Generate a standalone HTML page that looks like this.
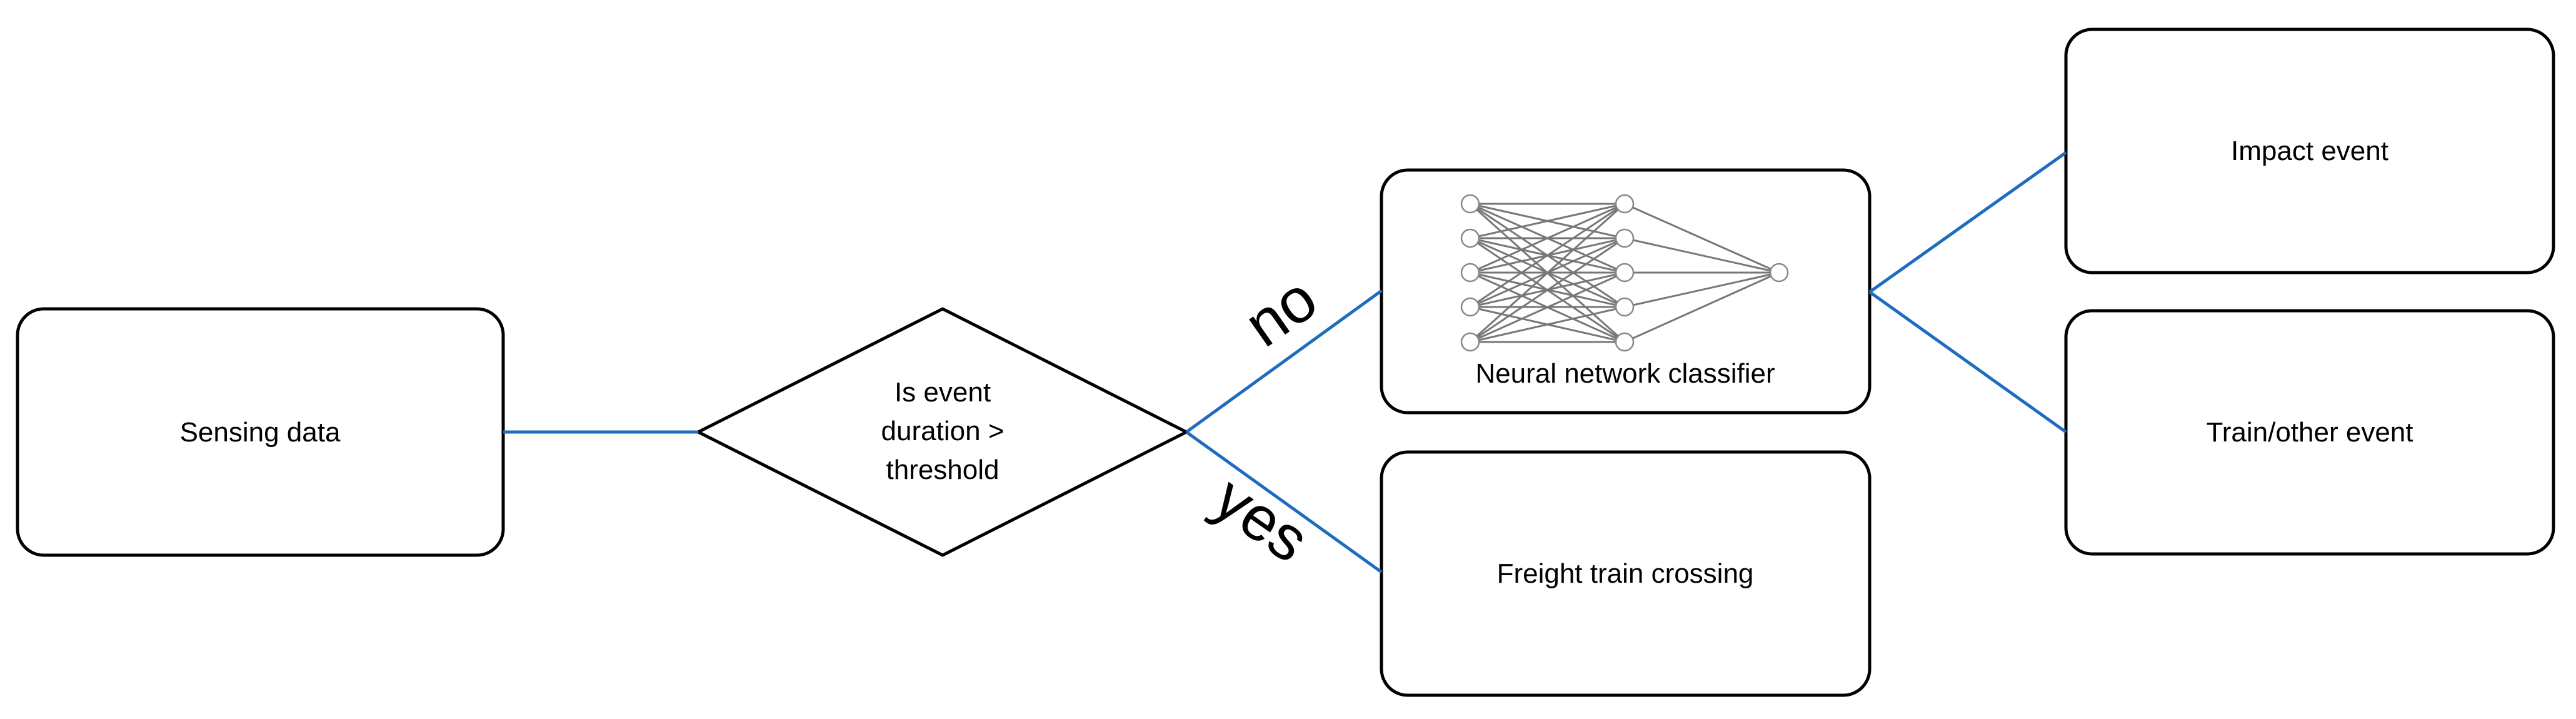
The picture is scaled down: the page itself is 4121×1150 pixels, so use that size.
<!DOCTYPE html>
<html><head><meta charset="utf-8"><style>html,body{margin:0;padding:0;background:#fff}svg{display:block}</style></head>
<body>
<svg width="4121" height="1150" viewBox="0 0 4121 1150" xmlns="http://www.w3.org/2000/svg" font-family="Liberation Sans, sans-serif">
<g fill="#fff" stroke="#000" stroke-width="5">
<rect x="28" y="494" width="777" height="394" rx="42"/>
<polygon points="1117,691 1508,494 1898,691 1508,888"/>
<rect x="2210" y="272" width="781" height="388" rx="42"/>
<rect x="2210" y="723" width="781" height="389" rx="42"/>
<rect x="3305" y="47" width="780" height="389" rx="42"/>
<rect x="3305" y="497" width="780" height="389" rx="42"/>
</g>
<g stroke="#1f6bbf" stroke-width="5" fill="none">
<line x1="805" y1="691" x2="1117" y2="691"/>
<line x1="1898" y1="691" x2="2210" y2="465"/>
<line x1="1898" y1="691" x2="2210" y2="915"/>
<line x1="2991" y1="467" x2="3305" y2="244"/>
<line x1="2991" y1="467" x2="3305" y2="691"/>
</g>
<g stroke="#777" stroke-width="3">
<line x1="2352" y1="326" x2="2599" y2="326"/><line x1="2352" y1="326" x2="2599" y2="381"/><line x1="2352" y1="326" x2="2599" y2="436"/><line x1="2352" y1="326" x2="2599" y2="491"/><line x1="2352" y1="326" x2="2599" y2="547"/>
<line x1="2352" y1="381" x2="2599" y2="326"/><line x1="2352" y1="381" x2="2599" y2="381"/><line x1="2352" y1="381" x2="2599" y2="436"/><line x1="2352" y1="381" x2="2599" y2="491"/><line x1="2352" y1="381" x2="2599" y2="547"/>
<line x1="2352" y1="436" x2="2599" y2="326"/><line x1="2352" y1="436" x2="2599" y2="381"/><line x1="2352" y1="436" x2="2599" y2="436"/><line x1="2352" y1="436" x2="2599" y2="491"/><line x1="2352" y1="436" x2="2599" y2="547"/>
<line x1="2352" y1="491" x2="2599" y2="326"/><line x1="2352" y1="491" x2="2599" y2="381"/><line x1="2352" y1="491" x2="2599" y2="436"/><line x1="2352" y1="491" x2="2599" y2="491"/><line x1="2352" y1="491" x2="2599" y2="547"/>
<line x1="2352" y1="547" x2="2599" y2="326"/><line x1="2352" y1="547" x2="2599" y2="381"/><line x1="2352" y1="547" x2="2599" y2="436"/><line x1="2352" y1="547" x2="2599" y2="491"/><line x1="2352" y1="547" x2="2599" y2="547"/>
<line x1="2599" y1="326" x2="2846" y2="436"/><line x1="2599" y1="381" x2="2846" y2="436"/><line x1="2599" y1="436" x2="2846" y2="436"/><line x1="2599" y1="491" x2="2846" y2="436"/><line x1="2599" y1="547" x2="2846" y2="436"/>
</g>
<g fill="#fff" stroke="#888" stroke-width="2.5">
<circle cx="2352" cy="326" r="14"/><circle cx="2352" cy="381" r="14"/><circle cx="2352" cy="436" r="14"/><circle cx="2352" cy="491" r="14"/><circle cx="2352" cy="547" r="14"/>
<circle cx="2599" cy="326" r="14"/><circle cx="2599" cy="381" r="14"/><circle cx="2599" cy="436" r="14"/><circle cx="2599" cy="491" r="14"/><circle cx="2599" cy="547" r="14"/>
<circle cx="2846" cy="436" r="14"/>
</g>
<g font-size="44" fill="#000" text-anchor="middle">
<text x="416" y="706">Sensing data</text>
<text x="1508" y="642">Is event</text>
<text x="1508" y="704">duration &gt;</text>
<text x="1508" y="766">threshold</text>
<text x="2600" y="612">Neural network classifier</text>
<text x="2600" y="932">Freight train crossing</text>
<text x="3695" y="256">Impact event</text>
<text x="3695" y="706">Train/other event</text>
<text x="2057" y="530" font-size="100" transform="rotate(-35 2057 510)">no</text>
<text x="2010" y="862" font-size="100" transform="rotate(35 2010 842)">yes</text>
</g>
</svg>
</body></html>
